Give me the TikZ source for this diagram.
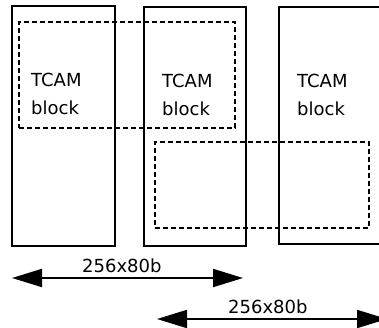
\documentclass[tikz,border=0pt]{standalone}
\usepackage{fontspec}
\setmainfont{DejaVu Sans}
\usetikzlibrary{arrows.meta}
\begin{document}
\begin{tikzpicture}[x=1pt,y=-1pt,
  blockbox/.style={draw,line width=2pt,inner sep=0pt},
  dashbox/.style={draw,line width=1.5pt,dash pattern=on 5pt off 3pt,inner sep=0pt},
  lbl/.style={font=\fontsize{18}{28.5}\selectfont,align=left,anchor=base west,inner sep=0pt},
  dimarrow/.style={line width=2pt,{Triangle[length=30pt,width=18pt]}-{Triangle[length=30pt,width=18pt]}},
  dimlbl/.style={font=\fontsize{18}{21}\selectfont,anchor=base west,inner sep=0pt}]
\useasboundingbox (0,0) rectangle (379,328);
\node[blockbox,minimum width=103pt,minimum height=240pt] (b1) at (63.5,126) {};
\node[blockbox,minimum width=102pt,minimum height=239pt] (b2) at (195,126.5) {};
\node[blockbox,minimum width=106pt,minimum height=237pt] (b3) at (332,125.5) {};
\node[dashbox,minimum width=216pt,minimum height=106pt] (d1) at (127,75) {};
\node[dashbox,minimum width=214pt,minimum height=86pt] (d2) at (262,185) {};
\node[lbl] (t1) at (31,115) {TCAM\\block};
\node[lbl] (t2) at (162,116) {TCAM\\block};
\node[lbl] (t3) at (297,116) {TCAM\\block};
\coordinate (a1l) at (12,278);
\coordinate (a1r) at (243,278);
\coordinate (a2l) at (157,319);
\coordinate (a2r) at (387,319);
\draw[dimarrow] (a1l) -- (a1r);
\draw[dimarrow] (a2l) -- (a2r);
\node[dimlbl] (l1) at (82,272) {256x80b};
\node[dimlbl] (l2) at (228,313) {256x80b};
\end{tikzpicture}
\end{document}
